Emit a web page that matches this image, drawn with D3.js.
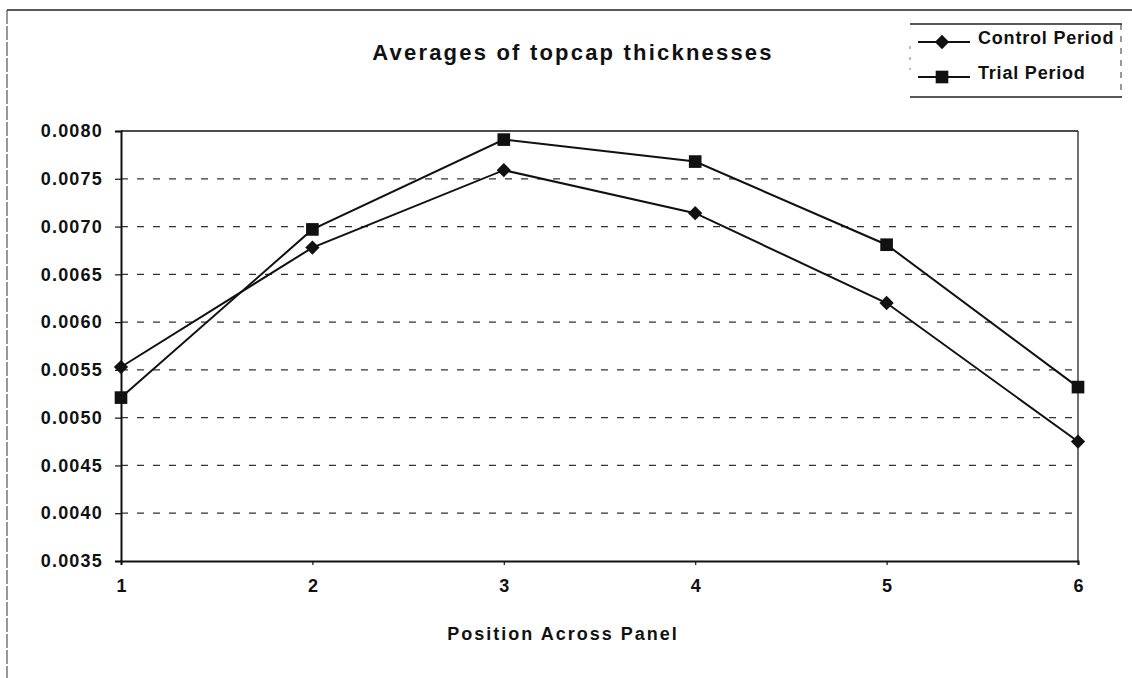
<!DOCTYPE html>
<html>
<head>
<meta charset="utf-8">
<script src="https://cdn.jsdelivr.net/npm/d3@7/dist/d3.min.js"></script>
<style>
  html, body { margin: 0; padding: 0; background: #fff; }
  svg { display: block; }
  text { font-family: "Liberation Sans", Arial, sans-serif; fill: #111; }
</style>
</head>
<body>
<svg id="chart" width="1132" height="678"></svg>
<script>
const positions = [1, 2, 3, 4, 5, 6];
const controlPeriod = [0.00553, 0.00678, 0.00759, 0.00714, 0.00620, 0.00475];
const trialPeriod   = [0.00521, 0.00697, 0.00791, 0.00768, 0.00681, 0.00532];
const yTicks = [0.0035, 0.0040, 0.0045, 0.0050, 0.0055, 0.0060, 0.0065, 0.0070, 0.0075, 0.0080];
const seriesNames = ["Control Period", "Trial Period"];
const titleText = "Averages of topcap thicknesses";
const xTitleText = "Position Across Panel";

const svg = d3.select("#chart");
const W = 1132, H = 678;
const m = { left: 121, right: 1078, top: 131, bottom: 561 };

const x = d3.scaleLinear().domain([1, 6]).range([m.left, m.right]);
const y = d3.scaleLinear().domain([0.0035, 0.0080]).range([m.bottom, m.top]);

// outer chart border (partially visible in the scan)
svg.append("line").attr("x1", 7).attr("x2", W).attr("y1", 10).attr("y2", 10)
  .attr("stroke", "#222").attr("stroke-width", 1.3);
svg.append("line").attr("x1", 7).attr("x2", 7).attr("y1", 10).attr("y2", H)
  .attr("stroke", "#333").attr("stroke-width", 1).attr("stroke-dasharray", "14,2");

// gridlines
svg.append("g").selectAll("line")
  .data(yTicks.filter(t => t > 0.0035 && t < 0.0080))
  .join("line")
  .attr("x1", m.left).attr("x2", m.right)
  .attr("y1", d => y(d)).attr("y2", d => y(d))
  .attr("stroke", "#333").attr("stroke-width", 1.2)
  .attr("stroke-dasharray", "7,9");

// plot area box (top and right)
svg.append("line").attr("x1", m.left).attr("x2", m.right).attr("y1", m.top).attr("y2", m.top)
  .attr("stroke", "#111").attr("stroke-width", 1.5);
svg.append("line").attr("x1", m.right).attr("x2", m.right).attr("y1", m.top).attr("y2", m.bottom)
  .attr("stroke", "#111").attr("stroke-width", 1.2);

// y axis
const yAxis = d3.axisLeft(y).tickValues(yTicks).tickFormat(d3.format(".4f")).tickSize(6).tickPadding(12);
const gy = svg.append("g").attr("transform", `translate(${m.left},0)`).call(yAxis);
gy.select(".domain").attr("stroke", "#111").attr("stroke-width", 2);
gy.selectAll(".tick line").attr("stroke", "#111").attr("stroke-width", 1.2);
gy.selectAll(".tick text")
  .style("font-family", '"Liberation Sans", Arial, sans-serif')
  .style("font-size", "18px").style("font-weight", "bold")
  .style("letter-spacing", "1.2px").attr("fill", "#111");

// x axis
const xAxis = d3.axisBottom(x).tickValues(positions).tickFormat(d3.format("d")).tickSize(4).tickPadding(14);
const gx = svg.append("g").attr("transform", `translate(0,${m.bottom})`).call(xAxis);
gx.select(".domain").attr("stroke", "#111").attr("stroke-width", 2);
gx.selectAll(".tick line").attr("stroke", "#111").attr("stroke-width", 1.2);
gx.selectAll(".tick text")
  .style("font-family", '"Liberation Sans", Arial, sans-serif')
  .style("font-size", "18px").style("font-weight", "bold").attr("fill", "#111");

// titles
svg.append("text").attr("x", 573).attr("y", 60).attr("text-anchor", "middle")
  .style("font-size", "22px").style("font-weight", "bold").style("letter-spacing", "2.2px")
  .text(titleText);
svg.append("text").attr("x", 563).attr("y", 640).attr("text-anchor", "middle")
  .style("font-size", "18px").style("font-weight", "bold").style("letter-spacing", "2px")
  .text(xTitleText);

// lines
const line = d3.line().x((d, i) => x(positions[i])).y(d => y(d));
[controlPeriod, trialPeriod].forEach(s => {
  svg.append("path").datum(s).attr("d", line)
    .attr("fill", "none").attr("stroke", "#111").attr("stroke-width", 2);
});

// markers
const diamond = d3.symbol().type(d3.symbolDiamond2).size(130);
const square = d3.symbol().type(d3.symbolSquare).size(160);
svg.append("g").selectAll("path").data(controlPeriod).join("path")
  .attr("d", diamond)
  .attr("transform", (d, i) => `translate(${x(positions[i])},${y(d)})`)
  .attr("fill", "#111");
svg.append("g").selectAll("path").data(trialPeriod).join("path")
  .attr("d", square)
  .attr("transform", (d, i) => `translate(${x(positions[i])},${y(d)})`)
  .attr("fill", "#111");

// legend
const lg = svg.append("g");
lg.append("line").attr("x1", 910).attr("x2", 1122).attr("y1", 24).attr("y2", 24).attr("stroke", "#222").attr("stroke-width", 1.3);
lg.append("line").attr("x1", 910).attr("x2", 1122).attr("y1", 97).attr("y2", 97).attr("stroke", "#222").attr("stroke-width", 1.3);
lg.append("line").attr("x1", 1121).attr("x2", 1121).attr("y1", 24).attr("y2", 97).attr("stroke", "#333").attr("stroke-width", 1).attr("stroke-dasharray", "6,6");
lg.append("line").attr("x1", 910).attr("x2", 910).attr("y1", 46).attr("y2", 70).attr("stroke", "#555").attr("stroke-width", 0.8).attr("stroke-dasharray", "3,8");

const legendRows = [
  { name: seriesNames[0], sym: diamond, yy: 42, ty: 44 },
  { name: seriesNames[1], sym: square, yy: 77, ty: 79 }
];
legendRows.forEach(r => {
  lg.append("line").attr("x1", 918).attr("x2", 970).attr("y1", r.yy).attr("y2", r.yy)
    .attr("stroke", "#111").attr("stroke-width", 2);
  lg.append("path").attr("d", r.sym).attr("transform", `translate(942,${r.yy})`).attr("fill", "#111");
  lg.append("text").attr("x", 978).attr("y", r.ty)
    .style("font-size", "18px").style("font-weight", "bold").style("letter-spacing", "0.8px")
    .text(r.name);
});
</script>
</body>
</html>
